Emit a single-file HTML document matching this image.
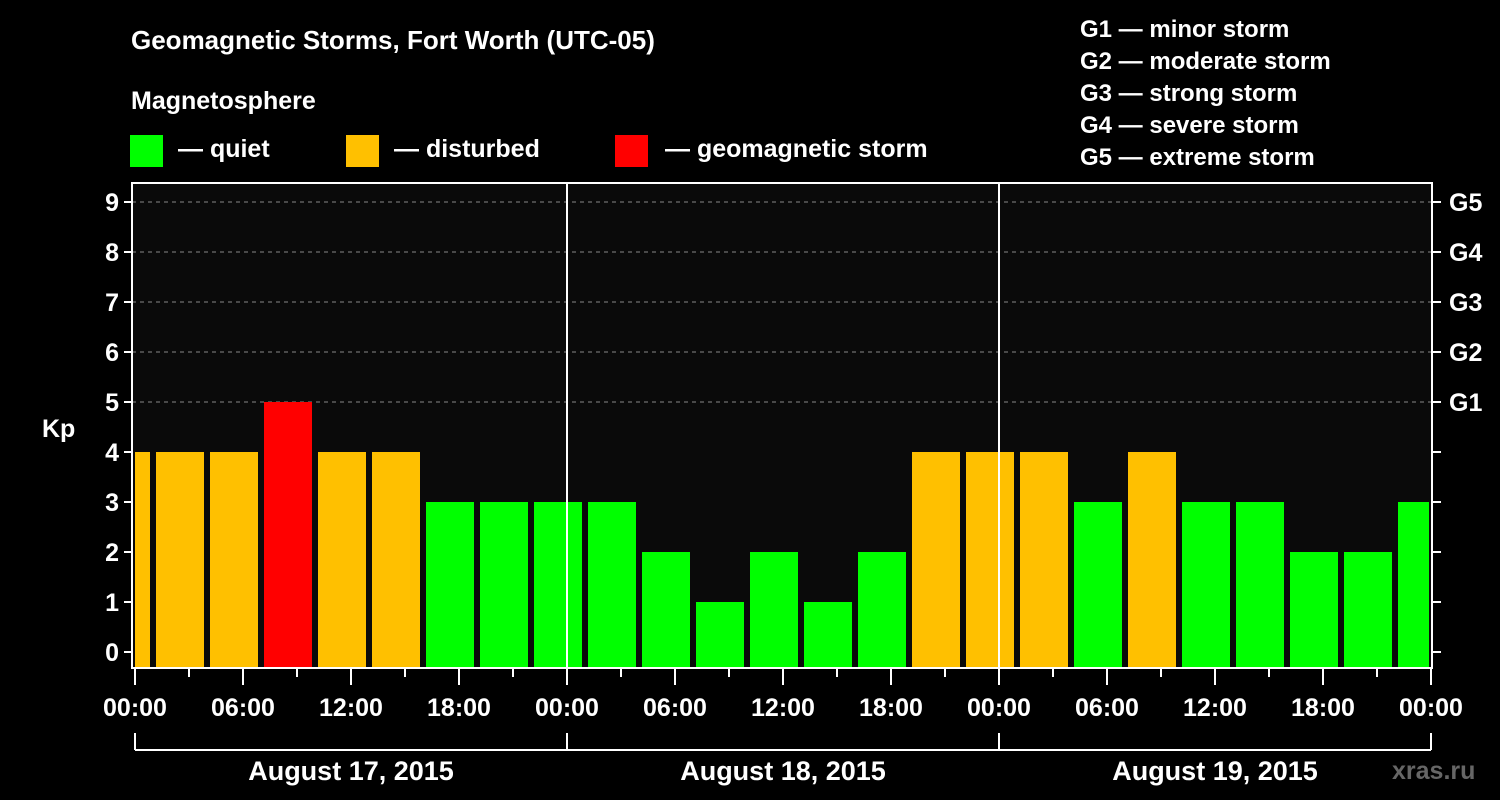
<!DOCTYPE html>
<html><head><meta charset="utf-8"><style>
html,body{margin:0;padding:0;background:#000;}
svg{display:block;font-family:"Liberation Sans",Arial,sans-serif;font-weight:bold;}
</style></head><body>
<svg id="chart" width="1500" height="800" viewBox="0 0 1500 800">
<rect x="0" y="0" width="1500" height="800" fill="#000"/>
<text x="131" y="49" fill="#fff" font-size="26">Geomagnetic Storms, Fort Worth (UTC-05)</text>
<text x="131" y="109" fill="#fff" font-size="25">Magnetosphere</text>
<g><rect x="130" y="135" width="33" height="32" fill="#00ff00"/><text x="178" y="157" fill="#fff" font-size="25">— quiet</text></g>
<g><rect x="346" y="135" width="33" height="32" fill="#ffc000"/><text x="394" y="157" fill="#fff" font-size="25">— disturbed</text></g>
<g><rect x="615" y="135" width="33" height="32" fill="#ff0000"/><text x="665" y="157" fill="#fff" font-size="25">— geomagnetic storm</text></g>
<g fill="#fff" font-size="24">
<text x="1080" y="37">G1 — minor storm</text>
<text x="1080" y="69">G2 — moderate storm</text>
<text x="1080" y="101">G3 — strong storm</text>
<text x="1080" y="133">G4 — severe storm</text>
<text x="1080" y="165">G5 — extreme storm</text>
</g>
<rect x="132" y="183" width="1300" height="485" fill="#0a0a0a"/>
<g id="grid"></g>
<g id="bars"></g>
<g id="axes"></g>
<text x="42" y="437" fill="#fff" font-size="25">Kp</text>
<text x="1392" y="779" fill="#666" font-size="25">xras.ru</text>
</svg>
<script>
const kpValues=[4,4,4,5,4,4,3,3,3,3,2,1,2,1,2,4,4,4,3,4,3,3,2,2,3];
const binStartHours=[-2,1,4,7,10,13,16,19,22,25,28,31,34,37,40,43,46,49,52,55,58,61,64,67,70];
const yTicks=[0,1,2,3,4,5,6,7,8,9];
const gLabels=["G1","G2","G3","G4","G5"];
const gLevels=[5,6,7,8,9];
const xTickLabels=["00:00","06:00","12:00","18:00","00:00","06:00","12:00","18:00","00:00","06:00","12:00","18:00","00:00"];
const dayLabels=["August 17, 2015","August 18, 2015","August 19, 2015"];
const NS="http://www.w3.org/2000/svg";
const X0=135,PXH=18,Y0=652,PXK=50,LEFT=132,RIGHT=1432,TOP=183,BOT=668;
const xs=h=>X0+h*PXH, ys=v=>Y0-v*PXK;
function mk(t,a,p){const e=document.createElementNS(NS,t);for(const k in a)e.setAttribute(k,a[k]);p.appendChild(e);return e;}
const grid=document.getElementById('grid'),bars=document.getElementById('bars'),axes=document.getElementById('axes');
gLevels.forEach(v=>{const l=mk('line',{x1:LEFT,x2:RIGHT,y1:ys(v),y2:ys(v),stroke:'#888','stroke-width':1,'stroke-dasharray':'4,4'},grid);

});
kpValues.forEach((v,i)=>{
 let x1=xs(binStartHours[i])+3,x2=xs(binStartHours[i]+3)-3;
 x1=Math.max(x1,LEFT+3);x2=Math.min(x2,RIGHT-3);
 const col=v>=5?'#ff0000':(v>=4?'#ffc000':'#00ff00');
 const r=mk('rect',{x:x1,y:ys(v),width:x2-x1,height:BOT-ys(v),fill:col},bars);
 
 
});
[1,2].forEach(d=>{const l=mk('line',{x1:xs(24*d),x2:xs(24*d),y1:TOP,y2:BOT,stroke:'#fff','stroke-width':2},axes);

});
const frame=mk('rect',{x:LEFT,y:TOP,width:RIGHT-LEFT,height:BOT-TOP,fill:'none',stroke:'#fff','stroke-width':2},axes);


yTicks.forEach(v=>{
 mk('line',{x1:LEFT-8,x2:LEFT,y1:ys(v),y2:ys(v),stroke:'#fff','stroke-width':2},axes);
 mk('line',{x1:RIGHT,x2:RIGHT+9,y1:ys(v),y2:ys(v),stroke:'#fff','stroke-width':2},axes);
 const t=mk('text',{x:LEFT-13,y:ys(v)+9,fill:'#fff','font-size':25,'text-anchor':'end'},axes);t.textContent=v;
 
 
});
gLabels.forEach((g,i)=>{const t=mk('text',{x:1449,y:ys(gLevels[i])+9,fill:'#fff','font-size':25},axes);t.textContent=g;

});
for(let h=0;h<=72;h+=3){const major=h%6===0;mk('line',{x1:xs(h),x2:xs(h),y1:BOT,y2:BOT+(major?17:9),stroke:'#fff','stroke-width':2},axes);}
xTickLabels.forEach((s,i)=>{const t=mk('text',{x:xs(i*6),y:716,fill:'#fff','font-size':25,'text-anchor':'middle'},axes);t.textContent=s;

});
mk('line',{x1:xs(0),x2:xs(72),y1:750,y2:750,stroke:'#fff','stroke-width':2},axes);
[0,1,2,3].forEach(d=>mk('line',{x1:xs(24*d),x2:xs(24*d),y1:733,y2:750,stroke:'#fff','stroke-width':2},axes));
dayLabels.forEach((s,i)=>{const t=mk('text',{x:xs(24*i+12),y:780,fill:'#fff','font-size':27,'text-anchor':'middle'},axes);t.textContent=s;

});
</script>
</body></html>
